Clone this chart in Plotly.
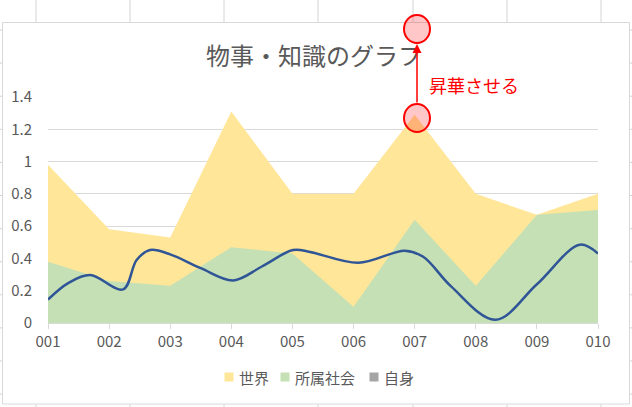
import plotly.graph_objects as go

# --- data ---
categories = ["001", "002", "003", "004", "005", "006", "007", "008", "009", "010"]
sekai = [0.98, 0.58, 0.53, 1.31, 0.80, 0.80, 1.29, 0.80, 0.67, 0.80]      # 世界
shozoku = [0.38, 0.26, 0.23, 0.47, 0.43, 0.10, 0.64, 0.23, 0.67, 0.70]    # 所属社会
jishin = [0, 0, 0, 0, 0, 0, 0, 0, 0, 0]                                   # 自身 (not visible)
series_names = ["世界", "所属社会", "自身"]

# free-hand blue curve, positions in category units
curve_x = [0, 0.33, 0.69, 1.23, 1.45, 1.67, 2.0, 2.5, 3.03, 3.5, 4.01, 4.29,
           5.08, 5.84, 6.14, 6.6, 7.32, 8.0, 8.7, 9.0]
curve_y = [0.145, 0.247, 0.297, 0.208, 0.39, 0.452, 0.425, 0.34, 0.264, 0.35, 0.452, 0.44,
           0.373, 0.448, 0.41, 0.225, 0.02, 0.24, 0.485, 0.43]

W, H = 632, 407
ML, MR, MT, MB = 48, 34, 97, 84
PW, PH = W - ML - MR, H - MT - MB

GRID = "#d9d9d9"
TXT = "#595959"
FONT = "Noto Sans CJK JP"
COLORS = ["#ffe699", "#c5e0b4", "#a5a5a5"]


def px(x):
    return (x - ML) / PW


def py(y):
    return (H - MB - y) / PH


xs = list(range(len(categories)))

fig = go.Figure()

for vals, col, name in zip([sekai, shozoku, jishin], COLORS, series_names):
    fig.add_trace(go.Scatter(x=xs, y=vals, mode="none", fill="tozeroy", name=name,
                             fillcolor=col, showlegend=False, hoverinfo="skip"))
fig.add_trace(go.Scatter(x=curve_x, y=curve_y, mode="lines",
                         line=dict(color="#2f5597", width=2.5, shape="spline", smoothing=1.0),
                         showlegend=False, hoverinfo="skip"))

shapes = []
annotations = []
# worksheet grid around the chart
for cx in [36, 130, 224, 318, 413, 507, 601]:
    shapes.append(dict(type="line", xref="paper", yref="paper", layer="below",
                       x0=px(cx), x1=px(cx), y0=py(0), y1=py(H),
                       line=dict(color="#d4d4d4", width=1)))
for k in range(12):
    ry = 30 + 33.1 * k
    shapes.append(dict(type="line", xref="paper", yref="paper", layer="below",
                       x0=px(0), x1=px(W), y0=py(ry), y1=py(ry),
                       line=dict(color="#d4d4d4", width=1)))
# chart area
shapes.append(dict(type="rect", xref="paper", yref="paper", layer="below",
                   x0=px(2.5), x1=px(629.5), y0=py(22.5), y1=py(404),
                   fillcolor="white", line=dict(color=GRID, width=1)))

# legend (Excel style: small square + label)
for name, col, mx in zip(series_names, COLORS, [229, 285, 374]):
    shapes.append(dict(type="rect", xref="paper", yref="paper",
                       x0=px(mx - 4.5), x1=px(mx + 4.5), y0=py(377 + 4.5), y1=py(377 - 4.5),
                       fillcolor=col, line=dict(width=0)))
    annotations.append(dict(xref="paper", yref="paper", x=px(mx + 8), y=py(377), text=name,
                            showarrow=False, xanchor="left", yanchor="middle",
                            font=dict(family=FONT, size=15, color=TXT)))

# red circles
for cy in [29, 118]:
    shapes.append(dict(type="circle", xref="paper", yref="paper",
                       x0=px(417 - 13), x1=px(417 + 13), y0=py(cy + 14), y1=py(cy - 14),
                       fillcolor="rgba(255,0,0,0.22)", line=dict(color="#ff0000", width=2)))

annotations += [
    dict(xref="paper", yref="paper", x=px(417), y=py(44), text="", showarrow=True,
         ax=0, ay=60, arrowhead=2, arrowsize=1.2, arrowwidth=1.5, arrowcolor="#ff0000"),
    dict(xref="paper", yref="paper", x=px(427), y=py(85), text="昇華させる",
         showarrow=False, xanchor="left", yanchor="middle",
         font=dict(family=FONT, size=18, color="#ff0000")),
]

fig.update_layout(
    width=W, height=H,
    margin=dict(l=ML, r=MR, t=MT, b=MB),
    paper_bgcolor="white", plot_bgcolor="rgba(0,0,0,0)",
    font=dict(family=FONT, color=TXT, size=15),
    title=dict(text="物事・知識のグラフ", xref="container", yref="container",
               x=314 / W, y=1 - 57 / H, xanchor="center", yanchor="middle",
               font=dict(family=FONT, size=24, color=TXT)),
    showlegend=False,
    shapes=shapes,
    annotations=annotations,
)

fig.update_xaxes(range=[0, 9], tickvals=xs, ticktext=categories, showgrid=False,
                 zeroline=False, showline=True, linecolor=GRID, linewidth=1,
                 ticks="outside", ticklen=5, tickcolor=GRID,
                 tickfont=dict(family=FONT, size=15, color=TXT))
fig.update_yaxes(range=[0, 1.4], dtick=0.2, showgrid=True, gridcolor=GRID, gridwidth=1,
                 zeroline=False, showline=False, ticks="", ticklabelstandoff=15,
                 tickfont=dict(family=FONT, size=15, color=TXT))

# page body has a default margin; drop it so the figure sits at the window origin
fig.write_html("out.html", config={"displayModeBar": False},
               post_script="document.body.style.margin='0';")
